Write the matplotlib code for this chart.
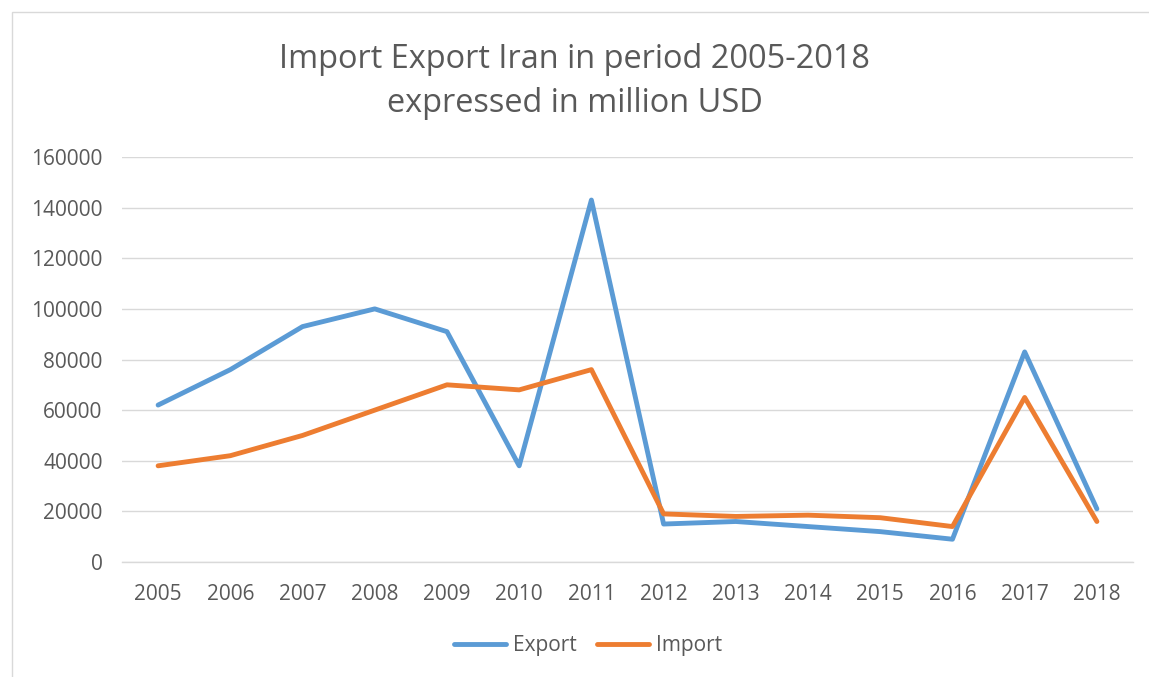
import matplotlib
matplotlib.use("Agg")
import matplotlib.pyplot as plt
from matplotlib.patches import Rectangle

years = ["2005", "2006", "2007", "2008", "2009", "2010", "2011",
         "2012", "2013", "2014", "2015", "2016", "2017", "2018"]
export = [62000, 76000, 93000, 100000, 91000, 38000, 143000,
          15000, 16000, 14000, 12000, 9000, 83000, 21000]
imports = [38000, 42000, 50000, 60000, 70000, 68000, 76000,
           19000, 18000, 18500, 17500, 14000, 65000, 16000]
yticks = [0, 20000, 40000, 60000, 80000, 100000, 120000, 140000, 160000]

plt.rcParams['font.family'] = ['Open Sans', 'DejaVu Sans']
txt = '#595959'

fig = plt.figure(figsize=(11.49, 6.77), dpi=100)
fig.patches.append(Rectangle((12/1149, -0.1), 1.2, 1 - 12/677 + 0.1,
                             transform=fig.transFigure, fill=False,
                             edgecolor='#D9D9D9', linewidth=1.0))
ax = fig.add_axes([122/1149, 1 - 562/677, (1133-122)/1149, (562-157)/677])

x = list(range(len(years)))
ax.plot(x, export, color='#5B9BD5', linewidth=3.5, solid_joinstyle='round',
        solid_capstyle='round', label='Export')
ax.plot(x, imports, color='#ED7D31', linewidth=3.5, solid_joinstyle='round',
        solid_capstyle='round', label='Import')

ax.set_xlim(-0.5, len(years) - 0.5)
ax.set_ylim(0, 160000)
ax.set_xticks(x)
ax.set_xticklabels(years)
ax.set_yticks(yticks)
ax.set_yticklabels([str(v) for v in yticks])
ax.tick_params(axis='both', length=0, labelsize=15, colors=txt)
ax.tick_params(axis='x', pad=15.5)
ax.tick_params(axis='y', pad=14)
ax.grid(axis='y', color='#D9D9D9', linewidth=1.0)
ax.set_axisbelow(True)
for s in ['top', 'right', 'left']:
    ax.spines[s].set_visible(False)
ax.spines['bottom'].set_color('#D9D9D9')
ax.spines['bottom'].set_linewidth(1.0)

fig.text(0.5, 1 - 59/677, 'Import Export Iran in period 2005-2018',
         ha='center', va='center', fontsize=23.4, color=txt)
fig.text(0.5, 1 - 104/677, 'expressed in million USD',
         ha='center', va='center', fontsize=23.4, color=txt)

leg = fig.legend(loc='center', bbox_to_anchor=(588/1149, 1 - 646/677), ncol=2,
                 frameon=False, fontsize=15, handlelength=2.5,
                 handletextpad=0.3, columnspacing=1.0)
for t in leg.get_texts():
    t.set_color(txt)

fig.savefig('out.png', dpi=100)
